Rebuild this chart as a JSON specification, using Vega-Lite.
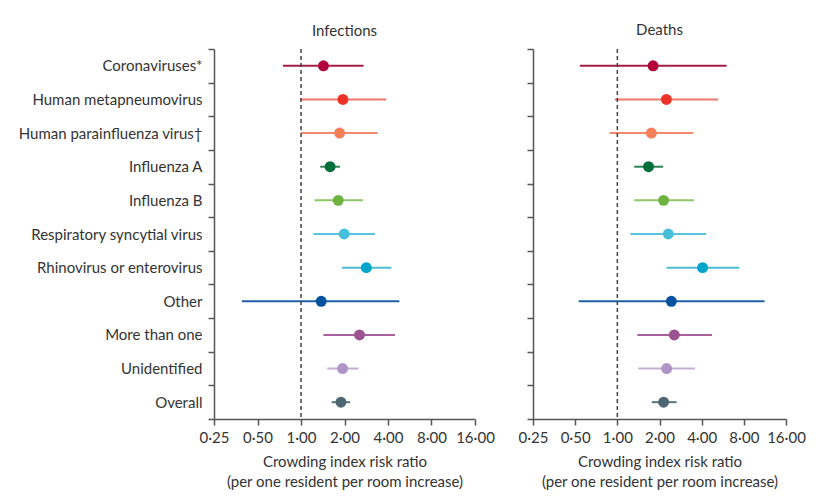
{
  "$schema": "https://vega.github.io/schema/vega-lite/v6.json",
  "padding": {"left": 17, "top": 23, "right": 5, "bottom": 5},
  "bounds": "flush",
  "spacing": 58,
  "background": "white",
  "config": {
    "font": "Lato",
    "view": {"stroke": null},
    "axis": {
      "domainColor": "#555555",
      "domainWidth": 1.5,
      "tickColor": "#555555",
      "tickWidth": 1.5,
      "tickSize": 6,
      "labelColor": "#333333",
      "titleColor": "#333333",
      "labelFont": "Lato",
      "titleFont": "Lato",
      "labelLimit": 400,
      "grid": false
    },
    "title": {"font": "Lato", "fontSize": 15, "fontWeight": "normal", "color": "#333333", "offset": 10, "frame": "group"}
  },
  "datasets": {
    "d": [
      {"panel": "Infections", "cat": "Coronaviruses*", "est": 1.43, "lo": 0.75, "hi": 2.71},
      {"panel": "Infections", "cat": "Human metapneumovirus", "est": 1.95, "lo": 0.99, "hi": 3.89},
      {"panel": "Infections", "cat": "Human parainfluenza virus†", "est": 1.85, "lo": 1.0, "hi": 3.39},
      {"panel": "Infections", "cat": "Influenza A", "est": 1.59, "lo": 1.36, "hi": 1.86},
      {"panel": "Infections", "cat": "Influenza B", "est": 1.81, "lo": 1.24, "hi": 2.69},
      {"panel": "Infections", "cat": "Respiratory syncytial virus", "est": 1.99, "lo": 1.22, "hi": 3.25},
      {"panel": "Infections", "cat": "Rhinovirus or enterovirus", "est": 2.83, "lo": 1.92, "hi": 4.22},
      {"panel": "Infections", "cat": "Other", "est": 1.38, "lo": 0.39, "hi": 4.79},
      {"panel": "Infections", "cat": "More than one", "est": 2.54, "lo": 1.43, "hi": 4.47},
      {"panel": "Infections", "cat": "Unidentified", "est": 1.94, "lo": 1.52, "hi": 2.5},
      {"panel": "Infections", "cat": "Overall", "est": 1.89, "lo": 1.63, "hi": 2.19},
      {"panel": "Deaths", "cat": "Coronaviruses*", "est": 1.8, "lo": 0.54, "hi": 6.02},
      {"panel": "Deaths", "cat": "Human metapneumovirus", "est": 2.24, "lo": 0.96, "hi": 5.25},
      {"panel": "Deaths", "cat": "Human parainfluenza virus†", "est": 1.75, "lo": 0.88, "hi": 3.49},
      {"panel": "Deaths", "cat": "Influenza A", "est": 1.67, "lo": 1.32, "hi": 2.12},
      {"panel": "Deaths", "cat": "Influenza B", "est": 2.14, "lo": 1.32, "hi": 3.52},
      {"panel": "Deaths", "cat": "Respiratory syncytial virus", "est": 2.31, "lo": 1.24, "hi": 4.31},
      {"panel": "Deaths", "cat": "Rhinovirus or enterovirus", "est": 4.06, "lo": 2.25, "hi": 7.42},
      {"panel": "Deaths", "cat": "Other", "est": 2.43, "lo": 0.53, "hi": 11.24},
      {"panel": "Deaths", "cat": "More than one", "est": 2.55, "lo": 1.39, "hi": 4.74},
      {"panel": "Deaths", "cat": "Unidentified", "est": 2.25, "lo": 1.41, "hi": 3.58},
      {"panel": "Deaths", "cat": "Overall", "est": 2.14, "lo": 1.76, "hi": 2.65}
    ]
  },
  "hconcat": [
    {
      "width": 261,
      "height": 370,
      "title": {"text": "Infections", "offset": 3},
      "layer": [
        {
          "data": {"name": "d"},
          "transform": [{"filter": "datum.panel === 'Infections'"}],
          "mark": {"type": "rule", "strokeWidth": 2},
          "encoding": {
            "y": {"field": "cat", "type": "nominal", "title": null,
              "sort": ["Coronaviruses*", "Human metapneumovirus", "Human parainfluenza virus†", "Influenza A", "Influenza B", "Respiratory syncytial virus", "Rhinovirus or enterovirus", "Other", "More than one", "Unidentified", "Overall"],
              "scale": {"paddingInner": 0, "paddingOuter": 0},
              "axis": {"tickBand": "extent", "labelFontSize": 15, "labelPadding": 6, "domain": true, "ticks": true}},
            "x": {"field": "lo", "type": "quantitative", "scale": {"type": "log", "base": 2, "domain": [0.25, 16], "nice": false},
              "axis": {"values": [0.25, 0.5, 1, 2, 4, 8, 16], "labelExpr": "replace(format(datum.value, '.2f'), '.', '·')", "labelFontSize": 15, "labelPadding": 5, "labelFlush": false, "title": ["Crowding index risk ratio", "(per one resident per room increase)"], "titleFontSize": 15, "titleFontWeight": "normal", "titlePadding": 9, "titleLineHeight": 20}},
            "x2": {"field": "hi"},
            "stroke": {"field": "cat", "type": "nominal", "legend": null,
              "scale": {"domain": ["Coronaviruses*", "Human metapneumovirus", "Human parainfluenza virus†", "Influenza A", "Influenza B", "Respiratory syncytial virus", "Rhinovirus or enterovirus", "Other", "More than one", "Unidentified", "Overall"],
                "range": ["#A31E45", "#F2776B", "#F58A6A", "#2E8355", "#8DC66B", "#58C3DD", "#4DBAD6", "#1E5FA8", "#A76099", "#C3AED6", "#5A747D"]}}
          }
        },
        {
          "data": {"name": "d"},
          "transform": [{"filter": "datum.panel === 'Infections'"}],
          "mark": {"type": "circle", "size": 120, "opacity": 1},
          "encoding": {
            "y": {"field": "cat", "type": "nominal", "title": null,
              "sort": ["Coronaviruses*", "Human metapneumovirus", "Human parainfluenza virus†", "Influenza A", "Influenza B", "Respiratory syncytial virus", "Rhinovirus or enterovirus", "Other", "More than one", "Unidentified", "Overall"]},
            "x": {"field": "est", "type": "quantitative"},
            "fill": {"field": "cat", "type": "nominal", "legend": null,
              "scale": {"domain": ["Coronaviruses*", "Human metapneumovirus", "Human parainfluenza virus†", "Influenza A", "Influenza B", "Respiratory syncytial virus", "Rhinovirus or enterovirus", "Other", "More than one", "Unidentified", "Overall"],
                "range": ["#B1003B", "#EE3228", "#F47F5B", "#006F3C", "#6CB33F", "#48BFDA", "#00A5C9", "#00529F", "#9D5291", "#AF94C8", "#4D6872"]}}
          }
        },
        {
          "data": {"values": [{}]},
          "mark": {"type": "rule", "color": "#444444", "strokeWidth": 1.5, "strokeDash": [4, 3]},
          "encoding": {
            "x": {"datum": 1, "type": "quantitative"}
          }
        }
      ]
    },
    {
      "width": 253,
      "height": 370,
      "title": {"text": "Deaths", "offset": 10},
      "layer": [
        {
          "data": {"name": "d"},
          "transform": [{"filter": "datum.panel === 'Deaths'"}],
          "mark": {"type": "rule", "strokeWidth": 2},
          "encoding": {
            "y": {"field": "cat", "type": "nominal", "title": null,
              "sort": ["Coronaviruses*", "Human metapneumovirus", "Human parainfluenza virus†", "Influenza A", "Influenza B", "Respiratory syncytial virus", "Rhinovirus or enterovirus", "Other", "More than one", "Unidentified", "Overall"],
              "scale": {"paddingInner": 0, "paddingOuter": 0},
              "axis": {"tickBand": "extent", "labels": false, "domain": true, "ticks": true}},
            "x": {"field": "lo", "type": "quantitative", "scale": {"type": "log", "base": 2, "domain": [0.25, 16], "nice": false},
              "axis": {"values": [0.25, 0.5, 1, 2, 4, 8, 16], "labelExpr": "replace(format(datum.value, '.2f'), '.', '·')", "labelFontSize": 15, "labelPadding": 5, "labelFlush": false, "title": ["Crowding index risk ratio", "(per one resident per room increase)"], "titleFontSize": 15, "titleFontWeight": "normal", "titlePadding": 9, "titleLineHeight": 20}},
            "x2": {"field": "hi"},
            "stroke": {"field": "cat", "type": "nominal", "legend": null,
              "scale": {"domain": ["Coronaviruses*", "Human metapneumovirus", "Human parainfluenza virus†", "Influenza A", "Influenza B", "Respiratory syncytial virus", "Rhinovirus or enterovirus", "Other", "More than one", "Unidentified", "Overall"],
                "range": ["#A31E45", "#F2776B", "#F58A6A", "#2E8355", "#8DC66B", "#58C3DD", "#4DBAD6", "#1E5FA8", "#A76099", "#C3AED6", "#5A747D"]}}
          }
        },
        {
          "data": {"name": "d"},
          "transform": [{"filter": "datum.panel === 'Deaths'"}],
          "mark": {"type": "circle", "size": 120, "opacity": 1},
          "encoding": {
            "y": {"field": "cat", "type": "nominal", "title": null,
              "sort": ["Coronaviruses*", "Human metapneumovirus", "Human parainfluenza virus†", "Influenza A", "Influenza B", "Respiratory syncytial virus", "Rhinovirus or enterovirus", "Other", "More than one", "Unidentified", "Overall"]},
            "x": {"field": "est", "type": "quantitative"},
            "fill": {"field": "cat", "type": "nominal", "legend": null,
              "scale": {"domain": ["Coronaviruses*", "Human metapneumovirus", "Human parainfluenza virus†", "Influenza A", "Influenza B", "Respiratory syncytial virus", "Rhinovirus or enterovirus", "Other", "More than one", "Unidentified", "Overall"],
                "range": ["#B1003B", "#EE3228", "#F47F5B", "#006F3C", "#6CB33F", "#48BFDA", "#00A5C9", "#00529F", "#9D5291", "#AF94C8", "#4D6872"]}}
          }
        },
        {
          "data": {"values": [{}]},
          "mark": {"type": "rule", "color": "#444444", "strokeWidth": 1.5, "strokeDash": [4, 3]},
          "encoding": {
            "x": {"datum": 1, "type": "quantitative"}
          }
        }
      ]
    }
  ]
}
